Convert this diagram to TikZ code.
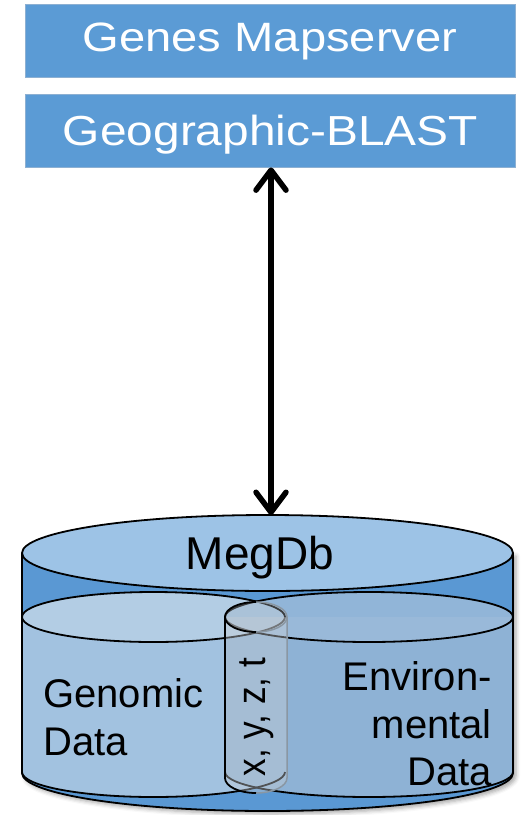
\documentclass[tikz,border=0pt]{standalone}
\usepackage{fontspec}
\setmainfont{Liberation Sans}
\usetikzlibrary{arrows.meta,shadows.blur}

\definecolor{boxblue}{HTML}{5B9BD5}
\definecolor{boxedge}{HTML}{8DB0D2}
\definecolor{dbside}{HTML}{5A98D3}
\definecolor{dbcap}{HTML}{9DC3E6}
\definecolor{genbody}{HTML}{A2C2E0}
\definecolor{gencap}{HTML}{B3CDE4}
\definecolor{envbody}{HTML}{8EB2D5}
\definecolor{envcap}{HTML}{9BBBDA}
\definecolor{keyfill}{HTML}{C8CED4}
\definecolor{keyedge}{HTML}{8A97A3}

\tikzset{
  hbox/.style={fill=boxblue, draw=boxedge, line width=0.8pt,
    minimum width=490pt, minimum height=73pt, inner sep=0pt},
  htext/.style={text=white, inner sep=0pt, anchor=base},
  txt/.style={text=black, inner sep=0pt},
  outline/.style={draw=black, line width=1.8pt},
  link/.style={line width=5.5pt,
    {Straight Barb[length=20pt,width=30pt,round]}-{Straight Barb[length=20pt,width=30pt,round]}}
}

\newcommand{\bigfont}[1]{\fontsize{#1}{#1}\selectfont}

\begin{document}
\begin{tikzpicture}[x=1pt,y=-1pt]
\useasboundingbox (0,0) rectangle (525,815);

% --- service boxes ---
\node[hbox] (maps) at (270.5,41) {};
\node[htext] (maps-text) at (270,51)
  {\scalebox{1.15}[1]{\bigfont{41}Genes Mapserver}};
\node[hbox] (blast) at (270.5,130.5) {};
\node[htext] (blast-text) at (270.5,145.5)
  {\scalebox{1.14}[1]{\bigfont{42}Geographic-BLAST}};

% --- database cylinder ---
\coordinate (dbtop) at (271,515);

% outer body with shadow
\path[fill=dbside, blur shadow={shadow xshift=3pt, shadow yshift=-3pt,
    shadow blur radius=4pt, shadow opacity=35}]
  (22,553) -- (22,773) arc[start angle=180, end angle=0, x radius=245.5, y radius=38]
  -- (513,553) -- cycle;
\draw[outline] (22,553) -- (22,773) arc[start angle=180, end angle=0, x radius=245.5, y radius=38]
  -- (513,553);
\draw[outline, fill=dbcap] (267.5,553) ellipse[x radius=245.5, y radius=38];

% genomic data cylinder
\fill[genbody] (22,617) -- (22,772) arc[start angle=180, end angle=0, x radius=131.5, y radius=25]
  -- (285,617) -- cycle;
% environmental data cylinder
\fill[envbody] (225,617) -- (225,772) arc[start angle=180, end angle=0, x radius=144, y radius=25]
  -- (513,617) -- cycle;
\fill[gencap] (153.5,617) ellipse[x radius=131.5, y radius=25];
\fill[envcap, fill opacity=0.85] (369,617) ellipse[x radius=144, y radius=25];

\draw[outline] (22,617) -- (22,772) arc[start angle=180, end angle=0, x radius=131.5, y radius=25];
\draw[outline] (513,617) -- (513,772) arc[start angle=0, end angle=180, x radius=144, y radius=25];
\draw[outline] (153.5,617) ellipse[x radius=131.5, y radius=25];
\draw[outline] (369,617) ellipse[x radius=144, y radius=25];

% shared key cylinder (x, y, z, t)
\fill[keyfill, fill opacity=0.4] (225,617) -- (225,778)
  arc[start angle=180, end angle=0, x radius=31, y radius=15] -- (287,617) -- cycle;
\fill[keyfill, fill opacity=0.3] (256,617) ellipse[x radius=31, y radius=15];
\draw[keyedge, line width=1.5pt] (287,617) -- (287,778)
  arc[start angle=0, end angle=90, x radius=31, y radius=15];
\draw[keyedge, line width=1.5pt] (256,602) arc[start angle=270, end angle=450, x radius=31, y radius=15];
\draw[outline] (256,602) arc[start angle=270, end angle=90, x radius=31, y radius=15];
\draw[outline] (225,617) -- (225,778) arc[start angle=180, end angle=90, x radius=31, y radius=15];

% --- labels ---
\node[txt, anchor=base] (megdb) at (260,569) {\bigfont{46}MegDb};

\node[txt, anchor=base west] (gen1) at (43,707) {\bigfont{40}Genomic};
\node[txt, anchor=base west] (gen2) at (43,755) {\bigfont{40}Data};

\node[txt, anchor=base east] (env1) at (492,690) {\bigfont{40}Environ-};
\node[txt, anchor=base east] (env2) at (492,738) {\bigfont{40}mental};
\node[txt, anchor=base east] (env3) at (492,785) {\bigfont{40}Data};

\node[txt, rotate=90, anchor=base] (key) at (265,717)
  {\scalebox{0.88}[1]{\bigfont{40}x, y, z, t}};

% --- query link ---
\draw[link] (blast.south -| dbtop) -- (dbtop);
\end{tikzpicture}
\end{document}
